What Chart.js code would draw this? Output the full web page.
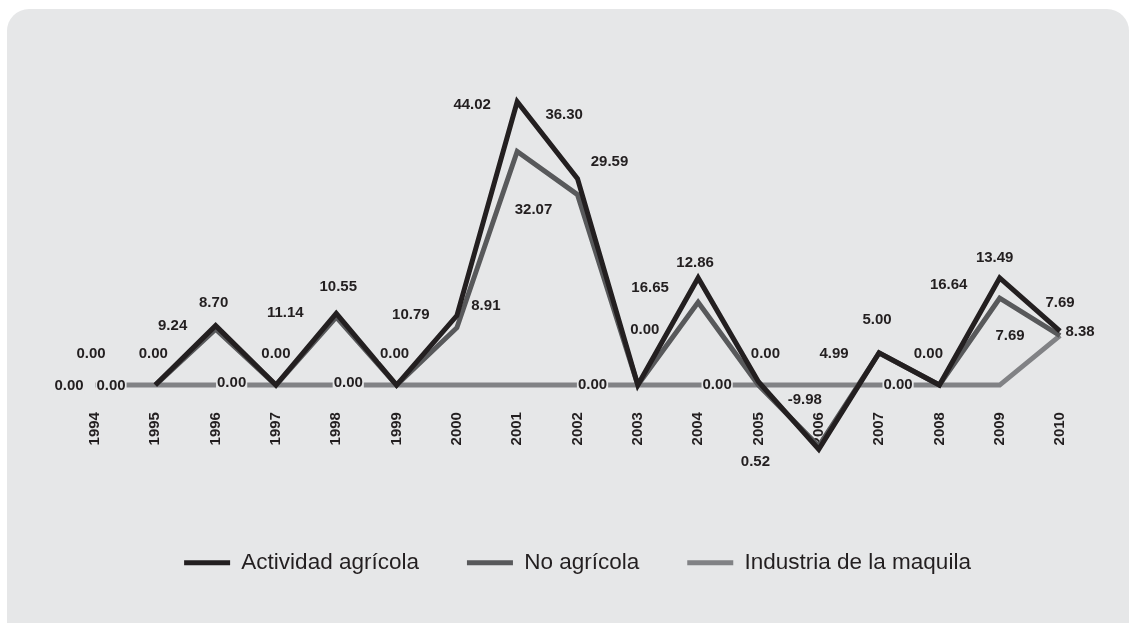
<!DOCTYPE html>
<html>
<head>
<meta charset="utf-8">
<script src="https://cdn.jsdelivr.net/npm/chart.js@4"></script>
<style>
  html, body { margin: 0; padding: 0; background: #ffffff; }
  #wrap { position: relative; width: 1131px; height: 623px; overflow: hidden; }
  #panel {
    position: absolute; left: 7px; top: 9px; width: 1122px; height: 660px;
    background: #e6e7e8; border-radius: 22px;
  }
  #chart { position: absolute; left: 0; top: 0; }
</style>
</head>
<body>
<div id="wrap">
  <div id="panel"></div>
  <canvas id="chart" width="1131" height="623"></canvas>
</div>
<script>
const years = ['1994', '1995', '1996', '1997', '1998', '1999', '2000', '2001', '2002',
  '2003', '2004', '2005', '2006', '2007', '2008', '2009', '2010'];

const agricola = [0, 0, 9.24, 0, 11.14, 0, 10.79, 44.02, 32.07, 0, 16.65, 0.52, -9.98, 5.00, 0, 16.64, 8.38];
const noAgricola = [0, 0, 8.70, 0, 10.55, 0, 8.91, 36.30, 29.59, 0, 12.86, 0, -9.5, 4.99, 0, 13.49, 7.69];
const maquila = [0, 0, 0, 0, 0, 0, 0, 0, 0, 0, 0, 0, 0, 0, 0, 0, 7.69];

// value labels: [dataset, point, dx, dy]
const labelSpots = [
  [0, 0, -4, -31], [0, 1, -2, -31], [0, 2, -43, 0], [0, 3, 0, -31], [0, 4, -51, -1],
  [0, 5, -2, -31], [0, 6, -46, -1], [0, 7, -45, 3], [0, 8, -44, 31], [0, 10, -48, 10],
  [0, 11, -3, 80], [0, 12, -14, -49], [0, 13, -2, -33], [0, 14, -11, -31], [0, 15, -51, 7],
  [0, 16, 20, 1],
  [1, 0, 16, 1], [1, 2, -2, -26], [1, 4, 2, -30], [1, 6, 29, -22], [1, 7, 47, -37],
  [1, 8, 32, -33], [1, 9, 7, -55], [1, 10, -3, -39], [1, 11, 7, -31], [1, 13, -45, 1],
  [1, 15, -5, -40], [1, 16, 0, -33],
  [2, 0, -26, 1], [2, 2, 16, -2], [2, 4, 12, -2], [2, 8, 15, 0], [2, 10, 19, 0],
  [2, 13, 19, 0], [2, 16, -50, 0]
];

const ink = '#231f20';
const panelColor = '#e6e7e8';
const fontFamily = '"Liberation Sans", Arial, Helvetica, sans-serif';

// the first two series are only traced from 1995 on
const from1995 = {
  borderColor: ctx => ctx.p0DataIndex === 0 ? 'rgba(0,0,0,0)' : undefined
};

const valueLabels = {
  id: 'valueLabels',
  afterDatasetsDraw(chart) {
    const ctx = chart.ctx;
    ctx.save();
    ctx.font = 'bold 15px ' + fontFamily;
    ctx.textAlign = 'center';
    ctx.textBaseline = 'middle';
    labelSpots.forEach(([ds, i, dx, dy]) => {
      const pt = chart.getDatasetMeta(ds).data[i];
      const text = chart.data.datasets[ds].data[i].toFixed(2);
      const x = pt.x + dx;
      const y = pt.y + dy;
      const w = ctx.measureText(text).width;
      ctx.fillStyle = panelColor;
      ctx.fillRect(x - w / 2 - 1, y - 7, w + 2, 14);
      ctx.fillStyle = ink;
      ctx.fillText(text, x, y);
    });
    ctx.restore();
  }
};

new Chart(document.getElementById('chart'), {
  type: 'line',
  data: {
    labels: years,
    datasets: [
      {
        label: 'Actividad agrícola',
        data: agricola,
        borderColor: '#231f20',
        borderWidth: 5,
        segment: from1995
      },
      {
        label: 'No agrícola',
        data: noAgricola,
        borderColor: '#58595b',
        borderWidth: 5,
        segment: from1995
      },
      {
        label: 'Industria de la maquila',
        data: maquila,
        borderColor: '#818285',
        borderWidth: 5
      }
    ]
  },
  options: {
    responsive: false,
    animation: false,
    layout: { padding: { left: 95, right: 71, top: 89, bottom: 39 } },
    elements: {
      line: { tension: 0, borderJoinStyle: 'miter', borderCapStyle: 'butt', fill: false },
      point: { radius: 0, hoverRadius: 0 }
    },
    scales: {
      x: {
        position: { y: 0 },
        offset: false,
        grid: { display: false, drawTicks: false },
        border: { display: false },
        ticks: {
          autoSkip: false,
          minRotation: 90,
          maxRotation: 90,
          padding: 27,
          color: ink,
          font: { family: fontFamily, size: 15, weight: 'bold' }
        }
      },
      y: {
        display: false,
        min: -18.4,
        max: 46
      }
    },
    plugins: {
      tooltip: { enabled: false },
      legend: {
        position: 'bottom',
        labels: {
          boxWidth: 46,
          boxHeight: 5,
          padding: 48,
          color: ink,
          font: { family: fontFamily, size: 22.5 },
          generateLabels(chart) {
            return chart.data.datasets.map((ds, i) => ({
              text: ds.label,
              fillStyle: ds.borderColor,
              strokeStyle: ds.borderColor,
              lineWidth: 0,
              fontColor: ink,
              hidden: false,
              datasetIndex: i
            }));
          }
        }
      }
    }
  },
  plugins: [valueLabels]
});
</script>
</body>
</html>
